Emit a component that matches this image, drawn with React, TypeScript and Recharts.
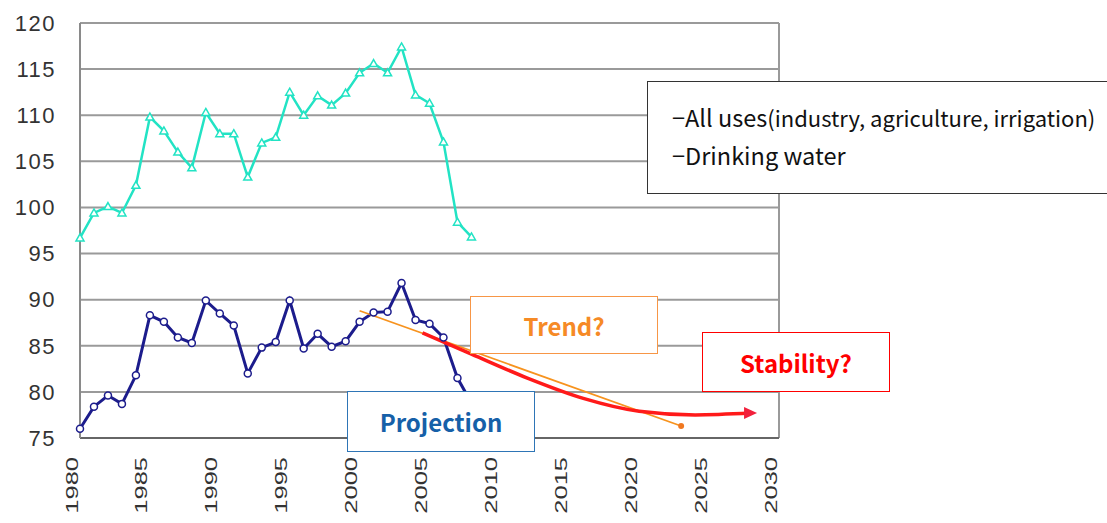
import React from "react";
import { CartesianGrid, Line, LineChart, ReferenceLine, XAxis, YAxis } from "recharts";

// observed series, 1980-2008
const years = [
	1980, 1981, 1982, 1983, 1984, 1985, 1986, 1987, 1988, 1989, 1990, 1991, 1992, 1993, 1994,
	1995, 1996, 1997, 1998, 1999, 2000, 2001, 2002, 2003, 2004, 2005, 2006, 2007, 2008,
];
const allUses = [
	96.7, 99.4, 100.1, 99.4, 102.4, 109.8, 108.3, 106.0, 104.3, 110.3, 108.0, 108.0, 103.3, 107.0,
	107.6, 112.5, 110.0, 112.1, 111.1, 112.4, 114.6, 115.6, 114.6, 117.4, 112.2, 111.3, 107.1, 98.4,
	96.8,
];
const drinkingWater = [
	76.0, 78.4, 79.6, 78.7, 81.8, 88.3, 87.6, 85.9, 85.3, 89.9, 88.5, 87.2, 82.0, 84.8, 85.4, 89.9,
	84.7, 86.3, 84.9, 85.5, 87.6, 88.6, 88.7, 91.8, 87.8, 87.4, 85.9, 81.5, 78.8,
];

// projections
const trendYears = [2000, 2023];
const trendValues = [88.8, 76.3];
const stabilityYears = [2004.5, 2008, 2012, 2016, 2020, 2024, 2028];
const stabilityValues = [86.4, 84.1, 81.5, 79.3, 77.9, 77.5, 77.7];

const xTicks = [1980, 1985, 1990, 1995, 2000, 2005, 2010, 2015, 2020, 2025, 2030];
const yTicks = [75, 80, 85, 90, 95, 100, 105, 110, 115, 120];

const observed = years.map((year, i) => ({ year, allUses: allUses[i], drinking: drinkingWater[i] }));
const trend = trendYears.map((year, i) => ({ year, value: trendValues[i] }));
const stability = stabilityYears.map((year, i) => ({ year, value: stabilityValues[i] }));

const boxFont = '"Noto Sans CJK JP", "Noto Sans", sans-serif';

const XTick = ({ x, y, payload }: any) => (
	<text
		transform={`translate(${x - 2.5},${y + 19}) rotate(-90) scale(1.5,1)`}
		textAnchor="end"
		fontSize={17}
		fontFamily="Liberation Sans, Arial, sans-serif"
		fill="#333"
	>
		{payload.value}
	</text>
);

const TriDot = ({ cx, cy, index }: any) => (
	<path
		key={`t${index}`}
		d={`M${cx},${cy - 4} L${cx + 4},${cy + 3} L${cx - 4},${cy + 3} Z`}
		fill="#fff"
		stroke="#22e3c4"
		strokeWidth={1.5}
	/>
);

const ArrowDot = ({ cx, cy, index }: any) =>
	index === stability.length - 1 ? (
		<path key="arrow" d={`M${cx + 6},${cy} L${cx - 7},${cy - 6} L${cx - 7},${cy + 6} Z`} fill="#f2203c" />
	) : (
		<g key={`s${index}`} />
	);

const TrendEnd = ({ cx, cy, index }: any) =>
	index === trend.length - 1 ? (
		<circle key="te" cx={cx} cy={cy} r={3} fill="#f07820" />
	) : (
		<g key={`tr${index}`} />
	);

function Box({ left, top, width, height, color, textColor, children }: any) {
	return (
		<div
			style={{
				position: "absolute",
				left,
				top,
				width,
				height,
				boxSizing: "border-box",
				border: `1.5px solid ${color}`,
				background: "#fff",
				display: "flex",
				alignItems: "center",
				justifyContent: "center",
				fontFamily: boxFont,
				fontWeight: 700,
				fontSize: 24,
				color: textColor,
			}}
		>
			{children}
		</div>
	);
}

export default function App() {
	return (
		<div
			style={{
				position: "absolute",
				left: 0,
				top: 0,
				width: 1107,
				height: 523,
				overflow: "hidden",
				background: "#fff",
			}}
		>
			<LineChart width={1107} height={523} margin={{ top: 23, right: 328, bottom: 10, left: 10 }}>
				<CartesianGrid vertical={false} stroke="#9a9a9a" strokeWidth={2} />
				<XAxis
					dataKey="year"
					type="number"
					domain={[1980, 2030]}
					ticks={xTicks}
					height={75}
					tickSize={0}
					tickMargin={0}
					tick={<XTick />}
					stroke="#666"
					strokeWidth={2}
					allowDuplicatedCategory={false}
				/>
				<YAxis
					type="number"
					domain={[75, 120]}
					ticks={yTicks}
					width={70}
					tickSize={0}
					tickMargin={24}
					stroke="#8a8a8a"
					strokeWidth={2}
					tick={{ fontSize: 22, fill: "#333", fontFamily: "Liberation Sans, Arial, sans-serif", letterSpacing: 1.5 }}
				/>
				<ReferenceLine x={2030} stroke="#9a9a9a" strokeWidth={2} />
				<Line
					data={observed}
					dataKey="allUses"
					stroke="#22e3c4"
					strokeWidth={2.5}
					dot={<TriDot />}
					isAnimationActive={false}
				/>
				<Line
					data={observed}
					dataKey="drinking"
					stroke="#1c1c8c"
					strokeWidth={3}
					dot={{ r: 3.5, fill: "#fff", stroke: "#1c1c8c", strokeWidth: 1.5 }}
					isAnimationActive={false}
				/>
				<Line
					data={trend}
					dataKey="value"
					stroke="#f7931e"
					strokeWidth={1.8}
					dot={<TrendEnd />}
					isAnimationActive={false}
				/>
				<Line
					data={stability}
					dataKey="value"
					type="monotone"
					stroke="#ff1a1a"
					strokeWidth={3.5}
					dot={<ArrowDot />}
					isAnimationActive={false}
				/>
			</LineChart>

			<Box left={470} top={296} width={188} height={58} color="#f79646" textColor="#f68a26">
				Trend?
			</Box>
			<Box left={702} top={332} width={188} height={60} color="#ff0000" textColor="#ff0000">
				Stability?
			</Box>
			<Box left={347} top={391} width={188} height={61} color="#2e75b6" textColor="#1660a8">
				Projection
			</Box>

			<div
				style={{
					position: "absolute",
					left: 647,
					top: 81,
					width: 500,
					height: 113,
					boxSizing: "border-box",
					border: "1.5px solid #333",
					background: "#fff",
					fontFamily: boxFont,
					color: "#111",
					paddingLeft: 24,
					paddingTop: 16,
					lineHeight: "38px",
				}}
			>
				<div style={{ fontSize: 23.5, whiteSpace: "nowrap" }}>
					−All uses<span style={{ fontSize: 22 }}>(industry, agriculture, irrigation)</span>
				</div>
				<div style={{ fontSize: 23.5, whiteSpace: "nowrap" }}>−Drinking water</div>
			</div>
		</div>
	);
}
